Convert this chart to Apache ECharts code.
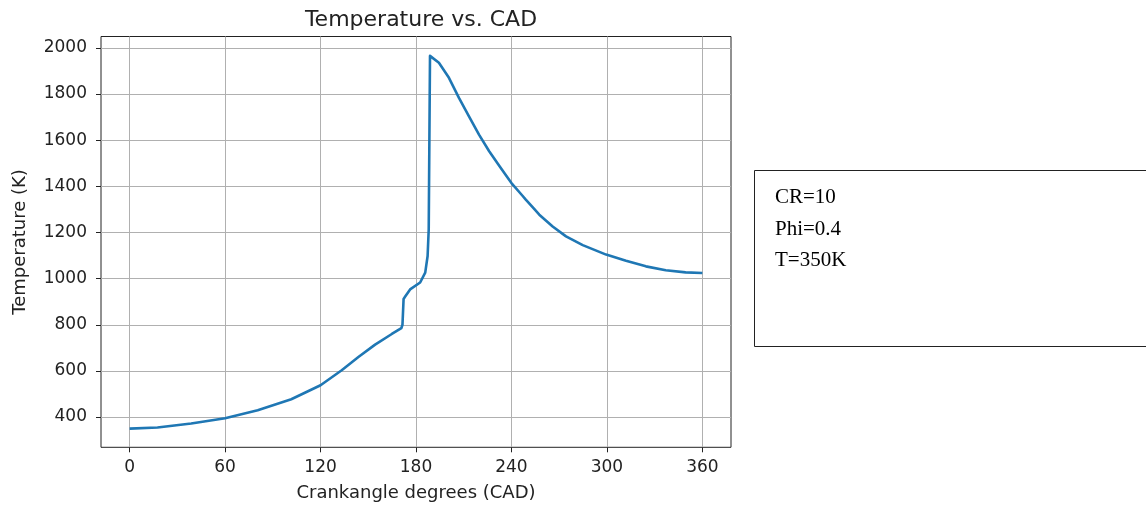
<!DOCTYPE html>
<html>
<head>
<meta charset="utf-8">
<script src="https://cdn.jsdelivr.net/npm/echarts@6/dist/echarts.min.js"></script>
<style>
  html, body { margin: 0; padding: 0; background: #fff; }
  #main { width: 1146px; height: 511px; }
</style>
</head>
<body>
<div id="main"></div>
<script>
// crank angle (deg) and temperature (K)
const cad = [0, 17.5, 38.7, 60, 80.5, 101.6, 120, 133.3, 143.8, 154.3, 164.8, 170.8,
  171.5, 172.2, 173.2, 176.3, 182.6, 185.8, 187.3, 188, 188.3, 188.8, 189.2,
  194.4, 200.7, 207, 213.3, 219.6, 226, 232.2, 236.3, 240, 246.8, 249, 254, 257.5,
  265.9, 274.3, 284.8, 299.5, 312, 324.5, 337, 349.5, 360];
const temperature = [350, 355, 372, 395, 430, 477, 538, 603, 660, 714, 760, 785,
  800, 912, 922, 953, 983, 1026, 1098, 1214, 1500, 1965, 1971,
  1935, 1870, 1783, 1703, 1624, 1552, 1490, 1450, 1414, 1360, 1342, 1304, 1277,
  1226, 1183, 1145, 1104, 1077, 1053, 1036, 1027, 1024];
const xTicks = [0, 60, 120, 180, 240, 300, 360];
const yTicks = [400, 600, 800, 1000, 1200, 1400, 1600, 1800, 2000];
const notes = ['CR=10', 'Phi=0.4', 'T=350K'];

const chart = echarts.init(document.getElementById('main'), null, {renderer: 'canvas'});

const font = 'DejaVu Sans';
const axisCommon = {
  axisLine: {show: false, onZero: false},
  axisTick: {show: true, inside: false, length: 5, lineStyle: {color: '#222', width: 1}},
  splitLine: {show: true, lineStyle: {color: '#b0b0b0', width: 1}},
  nameLocation: 'middle',
  nameTextStyle: {color: '#222', fontFamily: font, fontSize: 18}
};

chart.setOption({
  animation: false,
  title: {
    text: 'Temperature vs. CAD',
    left: 416, top: 4, textAlign: 'center',
    textStyle: {color: '#222', fontFamily: font, fontSize: 22, fontWeight: 'normal'}
  },
  grid: {
    left: 101, right: 415, top: 36.5, bottom: 63.7,
    show: true, borderColor: '#222', borderWidth: 1, backgroundColor: 'transparent'
  },
  xAxis: Object.assign({}, axisCommon, {
    type: 'value', min: -18, max: 378,
    name: 'Crankangle degrees (CAD)', nameGap: 37,
    axisTick: Object.assign({}, axisCommon.axisTick, {customValues: xTicks}),
    axisLabel: {customValues: xTicks, formatter: v => String(v),
      color: '#222', fontFamily: font, fontSize: 17, margin: 12}
  }),
  yAxis: Object.assign({}, axisCommon, {
    type: 'value', min: 269, max: 2049,
    name: 'Temperature (K)', nameGap: 72,
    axisTick: Object.assign({}, axisCommon.axisTick, {customValues: yTicks}),
    axisLabel: {customValues: yTicks, formatter: v => String(v),
      color: '#222', fontFamily: font, fontSize: 17, margin: 14}
  }),
  graphic: [
    {
      type: 'rect', left: 754, top: 170, silent: true,
      shape: {width: 420, height: 176},
      style: {fill: '#fff', stroke: '#222', lineWidth: 1}
    }
  ].concat(notes.map((t, i) => ({
    type: 'text', left: 775, top: 187 + i * 31.7,
    style: {text: t, fill: '#000', font: '21px "Liberation Serif"'}
  }))),
  series: [{
    type: 'line',
    data: cad.map((c, i) => [c, temperature[i]]),
    showSymbol: false,
    smooth: false,
    lineStyle: {color: '#1f77b4', width: 2.6, join: 'round'},
    clip: true
  }]
});
</script>
</body>
</html>
